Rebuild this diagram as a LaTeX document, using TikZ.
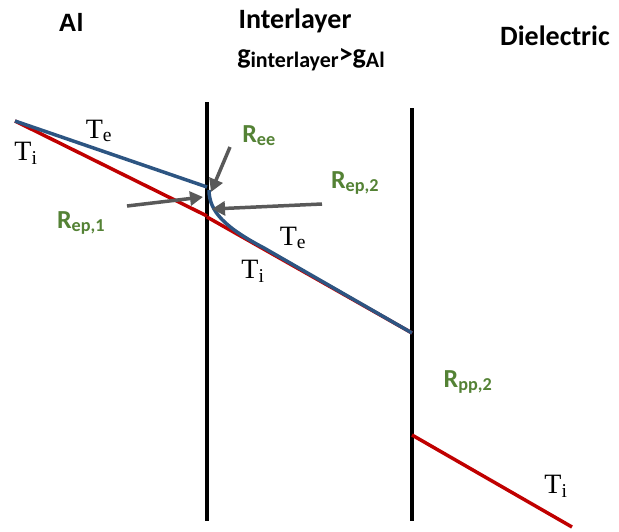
\documentclass[tikz,border=0pt]{standalone}
\usepackage{fontspec}
\setmainfont{Liberation Serif}
\newfontfamily\labelfont{Carlito}
\newfontfamily\metalfont{Liberation Sans}
\usetikzlibrary{arrows.meta}
\definecolor{ionred}{RGB}{192,0,0}
\definecolor{eleblue}{RGB}{45,85,130}
\definecolor{resgreen}{RGB}{84,130,53}
\definecolor{arrgray}{RGB}{89,89,89}
\newcommand{\gsub}[1]{\raisebox{-0.3ex}{\fontsize{22}{24}\selectfont #1}}

\begin{document}
\begin{tikzpicture}[x=1pt,y=-1pt,
    layer/.style={anchor=base,font=\labelfont\bfseries\fontsize{28}{30}\selectfont},
    res/.style={anchor=base,font=\labelfont\bfseries\fontsize{26}{28}\selectfont,text=resgreen},
    temp/.style={anchor=base,font=\fontsize{28}{30}\selectfont},
    wall/.style={line width=3.5pt},
    ion/.style={draw=ionred,line width=3.5pt},
    ele/.style={draw=eleblue,line width=3.5pt},
    pointer/.style={draw=arrgray,line width=3.5pt,-{Triangle[length=13pt,width=14pt]}}]
  \useasboundingbox (0,0) rectangle (619,531);
  \coordinate (w1top) at (207,102);
  \coordinate (w1bot) at (207,521);
  \coordinate (w2top) at (412,108);
  \coordinate (w2bot) at (412,521);
  \coordinate (start) at (15,121);
  \coordinate (iA) at (207,216);
  \coordinate (iB) at (207,217);
  \coordinate (iC) at (412,333);
  \coordinate (iD) at (412,435);
  \coordinate (iE) at (572,527);
  \coordinate (eA) at (207,187);
  \coordinate (eB) at (209,190);
  \coordinate (eC) at (264,248);
  \draw[wall] (w1top) -- (w1bot);
  \draw[wall] (w2top) -- (w2bot);
  \draw[ion] (start) -- (iA);
  \draw[ion] (iB) -- (iC);
  \draw[ion] (iD) -- (iE);
  \draw[ele] (start) -- (eA);
  \draw[ele] (eB) .. controls (209,212) and (226,228) .. (eC) -- (iC);
  \node[anchor=base,font=\metalfont\bfseries\fontsize{25}{28}\selectfont] (al) at (71,31) {Al};
  \node[layer] (inter) at (295,28) {Interlayer};
  \node[layer] (cond) at (311,63) {g\gsub{interlayer}>g\gsub{Al}};
  \node[layer] (diel) at (555,45) {Dielectric};
  \node[temp] (te1) at (99,138) {T\textsubscript{e}};
  \node[temp] (ti1) at (26,160) {T\textsubscript{i}};
  \node[temp] (te2) at (293,245) {T\textsubscript{e}};
  \node[temp] (ti2) at (253,278) {T\textsubscript{i}};
  \node[temp] (ti3) at (556,493) {T\textsubscript{i}};
  \node[res] (ree) at (259,142) {R\textsubscript{ee}};
  \node[res] (rep2) at (355,188) {R\textsubscript{ep,2}};
  \node[res] (rep1) at (81,228) {R\textsubscript{ep,1}};
  \node[res] (rpp2) at (468,387) {R\textsubscript{pp,2}};
  \coordinate (pA) at (230,147);
  \coordinate (pAt) at (211,192);
  \coordinate (pB) at (127,206);
  \coordinate (pBt) at (203,197);
  \coordinate (pC) at (322,204);
  \coordinate (pCt) at (212,209);
  \draw[pointer] (pA) -- (pAt);
  \draw[pointer] (pB) -- (pBt);
  \draw[pointer] (pC) -- (pCt);
\end{tikzpicture}
\end{document}
